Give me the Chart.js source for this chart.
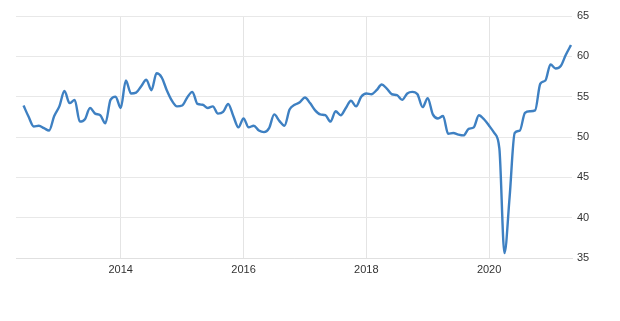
<!DOCTYPE html>
<html>
<head>
<meta charset="utf-8">
<script src="https://cdn.jsdelivr.net/npm/chart.js@4/dist/chart.umd.min.js"></script>
<style>
html,body{margin:0;padding:0;background:#fff;}
#wrap{width:620px;height:321px;position:relative;}
</style>
</head>
<body>
<div id="wrap"><canvas id="c" width="620" height="321"></canvas></div>
<script>
// Monthly observations, Jun 2012 .. May 2021
const startYear = 2012;
const startMonth = 6; // June
const values = [
  53.9, 52.5, 51.3, 51.4, 51.1, 50.8, 52.6,                         // 2012 Jun-Dec
  53.8, 55.7, 54.2, 54.6, 51.9, 52.2, 53.6, 52.9, 52.7, 51.7, 54.6, 55.0, // 2013
  53.6, 57.0, 55.4, 55.5, 56.3, 57.1, 55.8, 57.9, 57.4, 55.8, 54.5, 53.8, // 2014
  53.9, 54.9, 55.6, 54.1, 54.0, 53.6, 53.8, 52.9, 53.1, 54.1, 52.6, 51.2, // 2015
  52.3, 51.2, 51.4, 50.8, 50.6, 51.1, 52.8, 52.0, 51.4, 53.4, 54.0, 54.3, // 2016
  54.9, 54.2, 53.3, 52.8, 52.7, 51.9, 53.2, 52.7, 53.6, 54.5, 53.8, 55.0, // 2017
  55.4, 55.3, 55.8, 56.5, 56.0, 55.3, 55.2, 54.6, 55.4, 55.6, 55.3, 53.7, // 2018
  54.8, 52.8, 52.3, 52.6, 50.4, 50.5, 50.3, 50.2, 51.0, 51.2, 52.7, 52.2, // 2019
  51.4, 50.5, 48.6, 35.6, 42.5, 50.5, 50.8, 53.0, 53.2, 53.3, 56.6, 57.0, // 2020
  59.0, 58.5, 58.8, 60.2, 61.4                                       // 2021 Jan-May
];
const months = values.map((v, i) => {
  const m = startMonth - 1 + i;
  const y = startYear + Math.floor(m / 12);
  return y + '-' + String((m % 12) + 1).padStart(2, '0');
});
const yearTicks = [2014, 2016, 2018, 2020];
const yTicks = [35, 40, 45, 50, 55, 60, 65];

// month index counted from Jan of startYear
function monthIndex(label) {
  const [y, m] = label.split('-').map(Number);
  return (y - startYear) * 12 + (m - 1);
}
const points = months.map((lab, i) => ({ x: monthIndex(lab), y: values[i] }));

const font = { family: "'Liberation Sans', Arial, sans-serif", size: 11 };

new Chart(document.getElementById('c'), {
  type: 'line',
  data: {
    datasets: [{
      data: points,
      borderColor: 'rgb(62,128,194)',
      borderWidth: 2.4,
      pointRadius: 0,
      cubicInterpolationMode: 'monotone',
      fill: false
    }]
  },
  options: {
    responsive: false,
    animation: false,
    events: [],
    layout: { padding: { top: 16, left: 16, right: 0, bottom: 0 } },
    plugins: { legend: { display: false }, tooltip: { enabled: false } },
    scales: {
      x: {
        type: 'linear',
        min: 3.53,
        max: 112.2,
        afterBuildTicks: (s) => { s.ticks = yearTicks.map(y => ({ value: (y - startYear) * 12 })); },
        afterFit: (s) => { s.height = 63; },
        grid: { color: '#e4e4e4', lineWidth: 1, drawTicks: false },
        border: { color: '#e0e0e0' },
        ticks: {
          font: font, color: '#333', padding: 5, maxRotation: 0,
          callback: (v) => String(startYear + v / 12)
        }
      },
      y: {
        position: 'right',
        min: 35,
        max: 65,
        afterBuildTicks: (s) => { s.ticks = yTicks.map(v => ({ value: v })); },
        afterFit: (s) => { s.width = 48; },
        grid: { color: '#e8e8e8', lineWidth: 1, drawTicks: false },
        border: { display: false },
        ticks: { font: font, color: '#333', padding: 5 }
      }
    }
  }
});
</script>
</body>
</html>
